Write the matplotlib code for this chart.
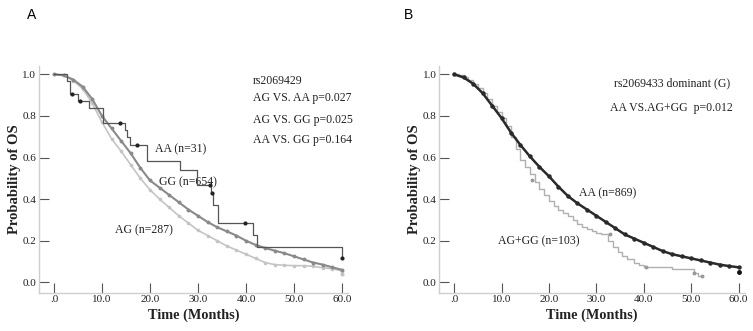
import numpy as np
import matplotlib.pyplot as plt

# ───────────────────────────────────────────────
# Data (time in months, survival probability)
# ───────────────────────────────────────────────
# Panel A : rs2069429
aa_a_t = [0, 2.8, 3.3, 5.1, 7.2, 10.3, 14.8, 15.3, 15.8, 19.3, 26.3, 29.7, 32.8, 33.2, 34.2, 41.5, 42.2, 60.0]
aa_a_s = [1.0, 0.968, 0.904, 0.873, 0.836, 0.767, 0.733, 0.70, 0.66, 0.583, 0.54, 0.468, 0.428, 0.372, 0.284, 0.227, 0.171, 0.115]
aa_a_cens_t = [3.7, 5.4, 13.75, 17.4, 32.5, 33.0, 39.8, 60.0]
aa_a_cens_s = [0.904, 0.873, 0.767, 0.66, 0.468, 0.428, 0.284, 0.115]

gg_t = [0, 2, 4, 6, 8, 10, 12, 14, 16, 18, 20, 22, 24, 26, 28, 30, 32, 34, 36, 38,
        40, 42, 44, 46, 48, 50, 52, 54, 56, 58, 60]
gg_s = [1.0, 0.995, 0.975, 0.94, 0.88, 0.80, 0.74, 0.68, 0.62, 0.55, 0.49, 0.455, 0.42,
        0.385, 0.35, 0.32, 0.29, 0.265, 0.245, 0.225, 0.20, 0.18, 0.165, 0.152, 0.14,
        0.125, 0.11, 0.095, 0.085, 0.072, 0.06]

ag_t = [0, 2, 4, 6, 8, 10, 12, 14, 16, 18, 20, 22, 24, 26, 28, 30, 32, 34, 36, 38,
        40, 42, 44, 46, 48, 50, 52, 54, 56, 58, 60]
ag_s = [1.0, 0.995, 0.97, 0.93, 0.86, 0.77, 0.69, 0.63, 0.565, 0.50, 0.445, 0.40, 0.36,
        0.32, 0.285, 0.25, 0.225, 0.20, 0.175, 0.155, 0.135, 0.115, 0.095, 0.085, 0.082,
        0.08, 0.08, 0.077, 0.07, 0.065, 0.055]

# Panel B : rs2069433 dominant (G)
aa_b_t = [0, 2, 4, 6, 8, 10, 12, 14, 16, 18, 20, 22, 24, 26, 28, 30, 32, 34, 36, 38,
          40, 42, 44, 46, 48, 50, 52, 54, 56, 58, 60]
aa_b_s = [1.0, 0.985, 0.955, 0.91, 0.85, 0.79, 0.72, 0.66, 0.605, 0.555, 0.51, 0.46, 0.415,
          0.38, 0.35, 0.32, 0.29, 0.26, 0.23, 0.21, 0.19, 0.17, 0.15, 0.135, 0.125, 0.115,
          0.105, 0.095, 0.085, 0.078, 0.072]

aggg_t = [0, 1, 2, 3, 4, 5, 6, 7, 8, 9, 10, 11, 12, 13, 14, 15, 16, 17, 18, 19, 20, 21,
          22, 23, 24, 25, 26, 27, 28, 29, 30, 31, 32.5, 33.5, 34.5, 35.5, 36.5, 38, 39, 40,
          46, 50.5, 51.5, 52.3]
aggg_s = [1.0, 0.995, 0.985, 0.972, 0.955, 0.935, 0.91, 0.88, 0.85, 0.82, 0.79, 0.75, 0.70,
          0.64, 0.59, 0.555, 0.52, 0.48, 0.45, 0.42, 0.39, 0.365, 0.35, 0.335, 0.32, 0.30,
          0.28, 0.265, 0.255, 0.245, 0.235, 0.23, 0.20, 0.17, 0.145, 0.125, 0.11, 0.095,
          0.085, 0.075, 0.065, 0.045, 0.03, 0.03]
aggg_cens_t = [16.4, 32.8, 40.5, 50.5, 52.3]
aggg_cens_s = [0.49, 0.23, 0.075, 0.045, 0.03]

# ───────────────────────────────────────────────
# Styling
# ───────────────────────────────────────────────
serif = 'Liberation Serif'
xticks = [0, 10, 20, 30, 40, 50, 60]
xticklabels = ['.0', '10.0', '20.0', '30.0', '40.0', '50.0', '60.0']
yticks = [0.0, 0.2, 0.4, 0.6, 0.8, 1.0]

fig = plt.figure(figsize=(7.53, 3.31), dpi=100)
axA = fig.add_axes([0.0519, 0.1157, 0.4105, 0.6849])
axB = fig.add_axes([0.5835, 0.1157, 0.4056, 0.6849])


def style_axis(ax):
    ax.set_xlim(-3.1, 61.3)
    ax.set_ylim(-0.05, 1.04)
    for side in ('top', 'right'):
        ax.spines[side].set_visible(False)
    for side in ('left', 'bottom'):
        ax.spines[side].set_color('#cfcfcf')
        ax.spines[side].set_linewidth(1.0)
    ax.set_xticks(xticks)
    ax.set_xticklabels(xticklabels)
    ax.set_yticks(yticks)
    ax.set_yticklabels([f'{v:.1f}' for v in yticks])
    ax.tick_params(direction='in', length=7, width=0.8, color='#555555',
                   labelsize=8, labelcolor='#222222', pad=2)
    for lab in ax.get_xticklabels() + ax.get_yticklabels():
        lab.set_family(serif)
    ax.set_xlabel('Time (Months)', family=serif, fontweight='bold', fontsize=10.3,
                  labelpad=3, color='#222222')
    ax.set_ylabel('Probability of OS', family=serif, fontweight='bold', fontsize=10.5,
                  labelpad=1, color='#222222')


# Panel A
style_axis(axA)
axA.plot(ag_t, ag_s, color='#c4c4c4', lw=1.2, marker='o', ms=1.6, zorder=2)
axA.plot(gg_t, gg_s, color='#8a8a8a', lw=1.5, marker='o', ms=1.8, zorder=3)
axA.step(aa_a_t, aa_a_s, where='post', color='#555555', lw=0.9, zorder=4)
axA.plot(aa_a_cens_t, aa_a_cens_s, 'o', color='#222222', ms=2, zorder=5)
axA.plot([60], [0.04], 'o', color='#c4c4c4', ms=2)

axA.text(21, 0.64, 'AA (n=31)', fontsize=8.5, family=serif, va='center', color='#222222')
axA.text(21.8, 0.483, 'GG (n=654)', fontsize=8.5, family=serif, va='center', color='#222222')
axA.text(12.8, 0.25, 'AG (n=287)', fontsize=8.5, family=serif, va='center', color='#222222')

axA.text(41.5, 0.97, 'rs2069429', fontsize=8.5, family=serif, va='center', color='#222222')
axA.text(41.5, 0.885, 'AG VS. AA p=0.027', fontsize=8.5, family=serif, va='center', color='#222222')
axA.text(41.5, 0.78, 'AG VS. GG p=0.025', fontsize=8.5, family=serif, va='center', color='#222222')
axA.text(41.5, 0.684, 'AA VS. GG p=0.164', fontsize=8.5, family=serif, va='center', color='#222222')

# Panel B
style_axis(axB)
axB.step(aggg_t, aggg_s, where='post', color='#b0b0b0', lw=1.0, zorder=2)
axB.plot(aggg_cens_t, aggg_cens_s, 'o', color='#999999', ms=1.8, zorder=3)
axB.plot(aa_b_t, aa_b_s, color='#2a2a2a', lw=1.8, marker='o', ms=2.2, zorder=4)
axB.plot([60], [0.05], 'o', color='#111111', ms=2.5, zorder=5)

axB.text(26.3, 0.43, 'AA (n=869)', fontsize=8.5, family=serif, va='center', color='#222222')
axB.text(9.3, 0.195, 'AG+GG (n=103)', fontsize=8.5, family=serif, va='center', color='#222222')
axB.text(33.7, 0.955, 'rs2069433 dominant (G)', fontsize=8.5, family=serif, va='center', color='#222222')
axB.text(32.9, 0.84, 'AA VS.AG+GG  p=0.012', fontsize=8.5, family=serif, va='center', color='#222222')

# Panel letters
fig.text(32 / 753, 1 - 15 / 331, 'A', fontsize=10, family='Liberation Sans', ha='center', va='center')
fig.text(409 / 753, 1 - 15 / 331, 'B', fontsize=10, family='Liberation Sans', ha='center', va='center')

fig.savefig('out.png', dpi=100)
